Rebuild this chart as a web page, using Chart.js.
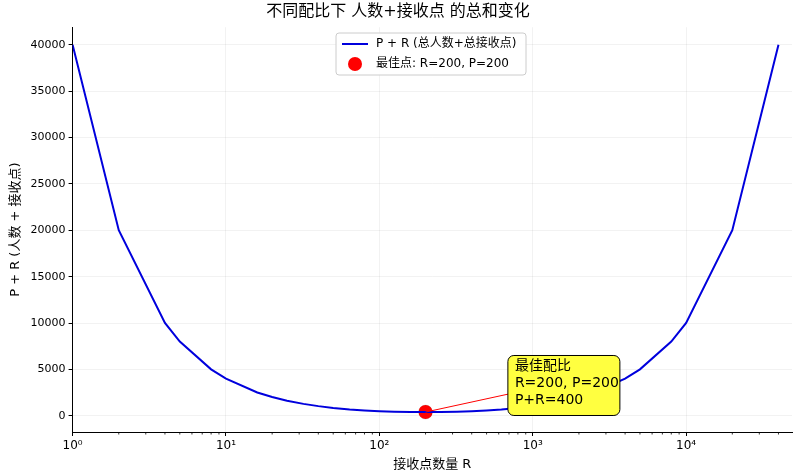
<!DOCTYPE html><html><head><meta charset="utf-8">
<script src="https://cdn.jsdelivr.net/npm/chart.js@4/dist/chart.umd.min.js"></script>
<style>body{margin:0;background:#fff}#c{width:800px;height:476px}</style></head><body>
<canvas id="c" width="800" height="476"></canvas>
<script>
const receivers=[1,2,4,5,8,10,16,20,25,32,40,50,64,80,100,125,160,200,250,320,400,500,625,800,1000,1250,1600,2000,2500,4000,5000,8000,10000,20000,40000];
const totals=[40001,20002,10004,8005,5008,4010,2516,2020,1625,1282,1040,850,689,580,500,445,410,400,410,445,500,580,689,850,1040,1282,1625,2020,2516,4010,5008,8005,10004,20002,40001];
const bestR=200, bestTotal=400, bestP=200;
const xTicks=[1,10,100,1000,10000];
const sup={'0':'⁰','1':'¹','2':'²','3':'³','4':'⁴'};
const F='"DejaVu Sans","Noto Sans CJK SC",sans-serif';
const extra={id:'extra',afterDraw(ch){
 const c=ch.ctx,x=ch.scales.x,y=ch.scales.y,a=ch.chartArea;
 c.save();
 c.strokeStyle='#000';c.lineWidth=0.8;
 for(let d=1;d<=10000;d*=10)for(let k=2;k<=9;k++){const v=d*k;if(v>x.max)continue;const px=x.getPixelForValue(v);c.beginPath();c.moveTo(px,a.bottom);c.lineTo(px,a.bottom+2.5);c.stroke();}
 const px=x.getPixelForValue(bestR),py=y.getPixelForValue(bestTotal);
 const bx=x.getPixelForValue(800)-10,by=y.getPixelForValue(6500);
 const bw=112,bh=60;
 c.strokeStyle='red';c.lineWidth=1;c.beginPath();c.moveTo(bx+40,by+bh/2);c.lineTo(px,py);c.stroke();
 c.fillStyle='#ffff40';c.strokeStyle='#000';c.beginPath();c.roundRect(bx,by,bw,bh,6);c.fill();c.stroke();
 c.fillStyle='#000';c.font='14px '+F;c.textBaseline='top';
 ['最佳配比','R='+bestR+', P='+bestP,'P+R='+bestTotal].forEach((t,i)=>c.fillText(t,bx+7,by+4+i*17));
 const lx=336,ly=33,lw=190,lh=42;
 c.fillStyle='rgba(255,255,255,0.9)';c.strokeStyle='#ccc';c.beginPath();c.roundRect(lx,ly,lw,lh,3);c.fill();c.stroke();
 c.strokeStyle='#0000dd';c.lineWidth=2;c.beginPath();c.moveTo(lx+6,ly+11);c.lineTo(lx+32,ly+11);c.stroke();
 c.fillStyle='red';c.beginPath();c.arc(lx+19,ly+31,7,0,7);c.fill();
 c.fillStyle='#000';c.font='12px '+F;c.textBaseline='middle';
 c.fillText('P + R (总人数+总接收点)',lx+40,ly+11);c.fillText('最佳点: R=200, P=200',lx+40,ly+31);
 c.restore();}};
new Chart(document.getElementById('c'),{type:'line',
 data:{datasets:[{data:receivers.map((r,i)=>({x:r,y:totals[i]})),borderColor:'#0000dd',borderWidth:2,pointRadius:0,tension:0},
  {type:'scatter',data:[{x:bestR,y:bestTotal}],backgroundColor:'red',pointRadius:7}]},
 options:{responsive:false,animation:false,
  layout:{padding:{left:4,right:8,top:0,bottom:0}},
  plugins:{legend:{display:false},tooltip:{enabled:false},
   title:{display:true,text:'不同配比下 人数+接收点 的总和变化',font:{size:16,family:F,weight:'normal'},color:'#000',padding:{top:2,bottom:6}}},
  scales:{
   x:{type:'logarithmic',min:1,max:49000,border:{color:'#000'},
    afterBuildTicks(s){s.ticks=xTicks.map(v=>({value:v}));},
    ticks:{color:'#000',font:{size:12,family:F},maxRotation:0,callback:v=>'10'+String(Math.round(Math.log10(v))).split('').map(d=>sup[d]).join('')},
    grid:{color:'rgba(0,0,0,0.05)',tickColor:'#000',tickLength:4},
    title:{display:true,text:'接收点数量 R',font:{size:13,family:F},color:'#000',padding:{top:0}}},
   y:{min:-1750,max:41900,border:{color:'#000'},
    afterBuildTicks(s){const t=[];for(let v=0;v<=40000;v+=5000)t.push({value:v});s.ticks=t;},
    ticks:{color:'#000',font:{size:11,family:F},callback:v=>String(v)},
    grid:{color:'rgba(0,0,0,0.05)',tickColor:'#000',tickLength:4},
    title:{display:true,text:'P + R (人数 + 接收点)',font:{size:13,family:F},color:'#000'}}}},
 plugins:[extra]});
</script></body></html>
